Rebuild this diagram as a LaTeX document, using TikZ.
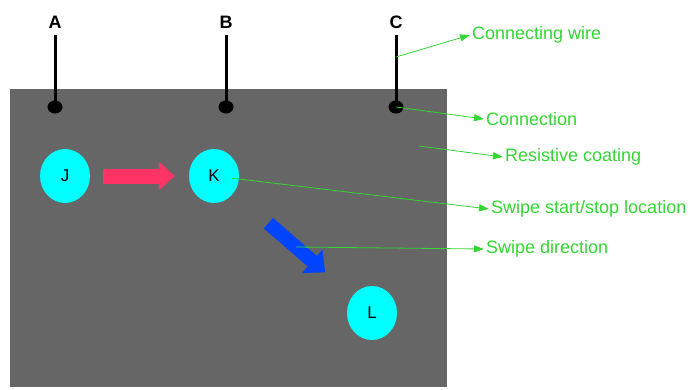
\documentclass[tikz,border=0pt]{standalone}
\usepackage{fontspec}
\setmainfont{Liberation Sans}
\usetikzlibrary{arrows.meta,shapes.geometric}
\definecolor{coating}{RGB}{102,102,102}
\definecolor{wiper}{RGB}{0,255,255}
\definecolor{swipered}{RGB}{255,51,102}
\definecolor{swipeblue}{RGB}{0,68,255}
\definecolor{calloutgreen}{RGB}{51,214,51}

\begin{document}
\begin{tikzpicture}[x=1pt, y=-1pt, every node/.style = {inner sep=0pt},
             pin label/.style={font=\fontsize{18}{20}\selectfont\bfseries},
             contact/.style={shape=ellipse, fill=black, minimum width=15pt, minimum height=13pt},
             spot/.style={shape=ellipse, fill=wiper, minimum width=50pt, minimum height=54pt,
                          font=\fontsize{17}{19}\selectfont},
             callout/.style={text=calloutgreen, anchor=west, inner sep=2pt,
                             font=\fontsize{18}{20}\selectfont},
             pointer/.style={draw=calloutgreen, line width=0.8pt, -{Triangle[length=10pt,width=7pt]}}]
\useasboundingbox (0,0) rectangle (694,389);
\fill [coating] (10,89) rectangle (447,387);

\foreach \name/\x in {A/55, B/226, C/396} {
  \node [pin label] (\name) at (\x,22) {\name};
  \node [contact] (dot\name) at (\x,107) {};
  \draw [line width=3pt, shorten <=6.5pt] (\name.south) -- (dot\name.center);
}

\node [spot] (J) at (65,176) {J};
\node [spot] (K) at (214,176) {K};
\node [spot] (L) at (372,313) {L};

\draw [swipered, line width=15pt, -{Triangle[length=16pt,width=28pt]},
       shorten <=13pt, shorten >=14pt] (J) -- (K);
\draw [swipeblue, line width=14pt, -{Triangle[length=17pt,width=30pt]},
       shorten <=72pt, shorten >=62pt] (K.center) -- (L.center);

\node [callout] (lwire) at (470,35) {Connecting wire};
\node [callout] (lconn) at (484,119) {Connection};
\node [callout] (lcoat) at (503,157) {Resistive coating};
\node [callout] (lswipe) at (489,209) {Swipe start/stop location};
\node [callout] (ldir) at (484,249) {Swipe direction};

\coordinate (cwire) at (396,57);
\coordinate (coat) at (419,146);
\coordinate (swipemid) at (296,247);

\draw [pointer] (cwire) -- (lwire.west);
\draw [pointer] (dotC.center) -- (lconn.west);
\draw [pointer] (coat) -- (lcoat.west);
\draw [pointer, shorten <=18pt] (K.center) -- (lswipe.west);
\draw [pointer] (swipemid) -- (ldir.west);

\end{tikzpicture}
\end{document}
